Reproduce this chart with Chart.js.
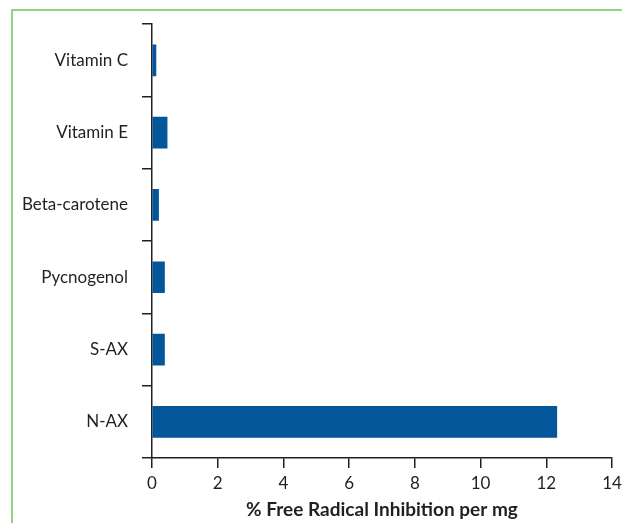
<!DOCTYPE html>
<html>
<head>
<meta charset="utf-8">
<script src="https://cdn.jsdelivr.net/npm/chart.js@4"></script>
<style>
    body { margin: 0; background: #fff; }
    #frame {
        position: absolute; left: 11px; top: 9px; right: 0; bottom: 0;
        border-left: 2px solid #8fd67c; border-top: 2px solid #8fd67c;
    }
    #wrap { position: absolute; left: 0; top: 0; width: 622px; height: 523px; }
</style>
</head>
<body>
<div id="frame"></div>
<div id="wrap"><canvas id="chart"></canvas></div>
<script>
// Data
const categories = ['Vitamin C', 'Vitamin E', 'Beta-carotene', 'Pycnogenol', 'S-AX', 'N-AX'];
const inhibition = [0.12, 0.46, 0.2, 0.38, 0.38, 12.32];
const xTicks = [0, 2, 4, 6, 8, 10, 12, 14];

const axisColor = '#231f20';
const fontFamily = 'Lato, "Open Sans", sans-serif';

const ctx = document.getElementById('chart').getContext('2d');
const chart = new Chart(ctx, {
    type: 'bar',
    data: {
        labels: categories,
        datasets: [{
            label: '% Free Radical Inhibition per mg',
            data: inhibition,
            backgroundColor: '#03569a',
            barThickness: 31
        }]
    },
    options: {
        indexAxis: 'y',
        responsive: true,
        maintainAspectRatio: false,
        animation: false,
        layout: {
            padding: { top: 24, right: 0, left: 0, bottom: 0 }
        },
        scales: {
            x: {
                min: 0,
                max: 14,
                afterBuildTicks: (scale) => {
                    scale.ticks = xTicks.map(v => ({ value: v }));
                },
                afterFit: (scale) => {
                    scale.height = 65;
                    scale.paddingRight = 10;
                },
                grid: {
                    drawOnChartArea: false,
                    drawTicks: true,
                    tickLength: 10,
                    color: axisColor,
                    lineWidth: 1.5
                },
                border: { color: axisColor, width: 1.5 },
                ticks: {
                    color: '#231f20',
                    padding: 5,
                    font: { family: fontFamily, size: 17 }
                },
                title: {
                    display: true,
                    text: '% Free Radical Inhibition per mg',
                    color: '#231f20',
                    padding: { top: 0, bottom: 2 },
                    font: { family: fontFamily, size: 19, weight: 'bold' }
                }
            },
            y: {
                afterFit: (scale) => { scale.width = 152; },
                grid: {
                    drawOnChartArea: false,
                    drawTicks: true,
                    tickLength: 10,
                    color: axisColor,
                    lineWidth: 1.5
                },
                border: { color: axisColor, width: 1.5 },
                ticks: {
                    color: '#231f20',
                    padding: 14,
                    font: { family: fontFamily, size: 17 }
                }
            }
        },
        plugins: {
            legend: { display: false },
            tooltip: { enabled: false }
        }
    }
});
</script>
</body>
</html>
